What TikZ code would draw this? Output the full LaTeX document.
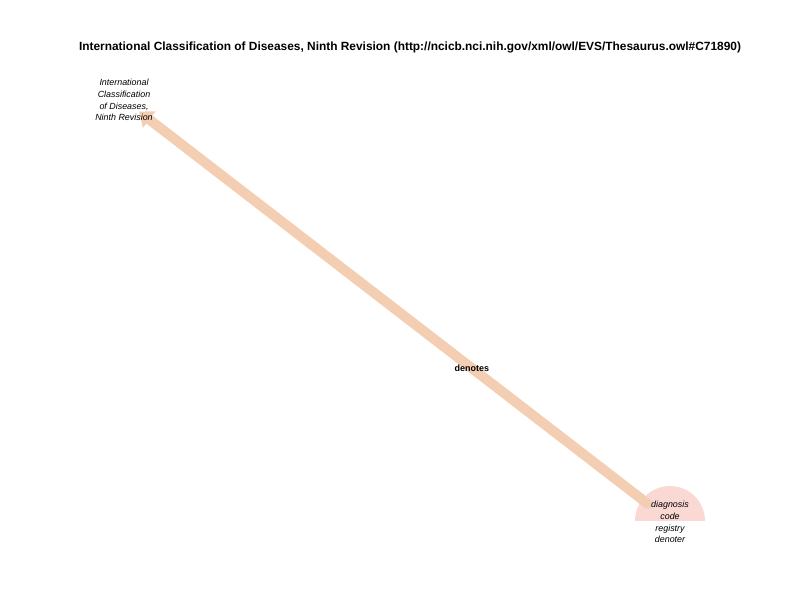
\documentclass[tikz,border=0pt]{standalone}
\usepackage{fontspec}
\setmainfont{Liberation Sans}
\usetikzlibrary{arrows.meta,calc,positioning,backgrounds}
\definecolor{edgepeach}{RGB}{244,206,178}
\definecolor{nodepink}{RGB}{250,216,212}
\tikzset{
    classtext/.style={font=\fontsize{8.9}{11.7}\selectfont\itshape, align=center, inner sep=0pt},
    edgelabel/.style={font=\fontsize{9}{10}\selectfont\bfseries, inner sep=1pt},
    relation/.style={line width=10pt, draw=edgepeach, line cap=round,
        -{Triangle[width=20pt,length=13pt]}}
}
\begin{document}
\begin{tikzpicture}[x=1pt,y=1pt]
    \useasboundingbox (0,0) rectangle (792,612);
    \pgfmathsetmacro{\r}{35};

    \node[font=\fontsize{11.9}{14}\selectfont\bfseries, anchor=center] (title) at (410,565)
        {International Classification of Diseases, Ninth Revision (http://ncicb.nci.nih.gov/xml/owl/EVS/Thesaurus.owl\#C71890)};

    \coordinate (dcrdc) at (670,91);
    \node[classtext] (dcrd) at (670,90) {diagnosis\\code\\registry\\denoter};
    \node[classtext] (icd) at (124,512) {International\\Classification\\of Diseases,\\Ninth Revision};

    % half disc and edge go under the labels
    \begin{scope}[on background layer]
    \fill[nodepink] ($(dcrdc)+(\r,0)$) arc[start angle=0, end angle=180, radius=\r] -- cycle;
    \draw[relation, shorten <=28pt, shorten >=19pt] (dcrdc) -- (icd.center)
        node[pos=0.363, edgelabel, text=black] {denotes};
    \end{scope}
\end{tikzpicture}
\end{document}
